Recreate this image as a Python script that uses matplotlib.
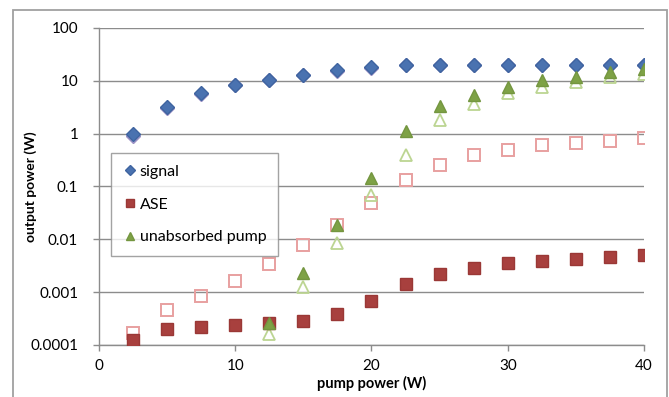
import numpy as np
import matplotlib
matplotlib.use("Agg")
import matplotlib.pyplot as plt
from matplotlib.patches import Rectangle

plt.rcParams["font.family"] = ["Lato", "DejaVu Sans"]

pump = [2.5, 5, 7.5, 10, 12.5, 15, 17.5, 20, 22.5, 25, 27.5, 30, 32.5, 35, 37.5, 40]

signal = [0.98, 3.2, 5.9, 8.4, 10.5, 13, 15.7, 18, 19.8, 20, 20, 20, 20, 20, 20, 20]
signal_model = [0.9, 3.1, 5.7, 8.2, 10.3, 12.8, 15.4, 17.7, 19.5, 19.8, 19.8, 19.8, 19.8, 19.8, 19.8, 19.8]

ase = [0.000124, 0.0002, 0.00022, 0.00024, 0.00026, 0.00028, 0.00038, 0.00069,
       0.00143, 0.0022, 0.0029, 0.0035, 0.0039, 0.0042, 0.0047, 0.005]
ase_model = [0.00017, 0.00045, 0.00085, 0.00166, 0.0034, 0.0078, 0.019, 0.049,
             0.13, 0.26, 0.40, 0.49, 0.61, 0.68, 0.74, 0.82]

pump_x = [12.5, 15, 17.5, 20, 22.5, 25, 27.5, 30, 32.5, 35, 37.5, 40]
unabs = [0.00026, 0.0023, 0.0187, 0.144, 1.12, 3.3, 5.4, 7.6, 10.5, 11.8, 15, 16.5]
unabs_model = [0.00016, 0.00127, 0.0087, 0.069, 0.39, 1.8, 3.6, 5.9, 7.7, 9.7, 12, 13.6]

fig = plt.figure(figsize=(6.69, 3.97), dpi=100)
ax = fig.add_axes([0.148, 0.131, 0.8146, 0.7985])

# outer chart frame
fig.patches.append(Rectangle((0.0194, -0.01), 0.977, 0.985, transform=fig.transFigure,
                             fill=False, edgecolor="#a0a0a0", lw=1.3))

# open markers (drawn first, underneath)
ax.plot(pump, signal_model, ls="none", marker="D", ms=7, mfc="#b0a8d0",
        mec="#9a90c4", mew=1, zorder=2)
ax.plot(pump, ase_model, ls="none", marker="s", ms=8, mfc="none",
        mec="#e8a0a0", mew=1.4, zorder=2)
ax.plot(pump_x, unabs_model, ls="none", marker="^", ms=8.5, mfc="none",
        mec="#bcd592", mew=1.3, zorder=2)

# filled markers
ax.plot(pump, signal, ls="none", marker="D", ms=7, color="#4a72b0",
        mec="#3f64a0", label="signal", zorder=3)
ax.plot(pump, ase, ls="none", marker="s", ms=8, color="#a8403e",
        mec="#9a3836", label="ASE", zorder=3)
ax.plot(pump_x, unabs, ls="none", marker="^", ms=8.5, color="#7ea246",
        mec="#749640", label="unabsorbed pump", zorder=3)

ax.set_yscale("log")
ax.set_xlim(0, 40)
ax.set_ylim(1e-4, 100)
ax.set_xticks([0, 10, 20, 30, 40])
ax.set_yticks([1e-4, 1e-3, 1e-2, 1e-1, 1, 10, 100])
ax.set_yticklabels(["0.0001", "0.001", "0.01", "0.1", "1", "10", "100"])
ax.yaxis.set_minor_locator(matplotlib.ticker.NullLocator())
ax.grid(axis="y", color="#8c8c8c", lw=1)
ax.set_axisbelow(True)
for s in ["top", "right"]:
    ax.spines[s].set_visible(False)
for s in ["left", "bottom"]:
    ax.spines[s].set_color("#8c8c8c")
    ax.spines[s].set_linewidth(1)
ax.tick_params(axis="both", colors="#8c8c8c", labelcolor="black", labelsize=11,
               length=4, width=1)
ax.tick_params(axis="y", pad=11)
ax.tick_params(axis="x", pad=6)

ax.set_xlabel("pump power (W)", fontsize=10.5, fontweight="bold", labelpad=2)
ax.set_ylabel("output power (W)", fontsize=10, fontweight="bold")
ax.yaxis.set_label_coords(-0.114, 0.5)

leg = ax.legend(loc="upper left", bbox_to_anchor=(0.022, 0.606), borderaxespad=0,
                fontsize=11.5, frameon=True, fancybox=False, borderpad=0.75,
                labelspacing=1.15, handletextpad=0.15, handlelength=0.9,
                markerscale=0.75)
leg.get_frame().set_edgecolor("#8c8c8c")
leg.get_frame().set_linewidth(1)

fig.savefig("out.png", dpi=100)
